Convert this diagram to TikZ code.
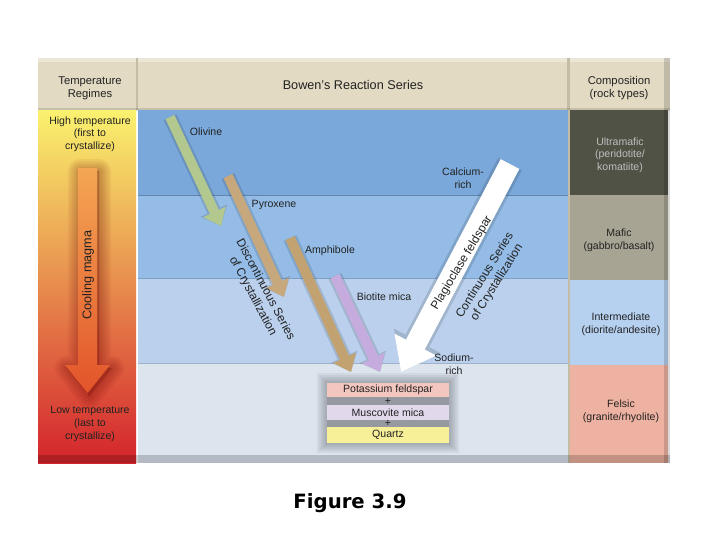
\documentclass[tikz,border=0pt]{standalone}
\usepackage{fontspec}
\setmainfont{Liberation Sans}
\newfontfamily\capfont{DejaVu Sans}
\usepackage{tikz}
\usetikzlibrary{arrows.meta}
\usepackage{xcolor}

\definecolor{hdrbeige}{RGB}{226,218,194}
\definecolor{hdrline}{RGB}{196,188,164}
\definecolor{tempyellow}{RGB}{250,242,110}
\definecolor{temporange}{RGB}{242,172,72}
\definecolor{tempred}{RGB}{212,36,44}
\definecolor{bandA}{RGB}{122,168,218}
\definecolor{bandB}{RGB}{148,188,230}
\definecolor{bandC}{RGB}{186,208,236}
\definecolor{bandD}{RGB}{220,228,238}
\definecolor{rockA}{RGB}{80,82,70}
\definecolor{rockB}{RGB}{168,164,148}
\definecolor{rockC}{RGB}{182,208,240}
\definecolor{rockD}{RGB}{238,178,162}
\definecolor{olivgreen}{RGB}{178,200,142}
\definecolor{pyxtan}{RGB}{198,168,124}
\definecolor{amptan}{RGB}{194,162,112}
\definecolor{biopurple}{RGB}{198,172,222}
\definecolor{kfspink}{RGB}{244,198,192}
\definecolor{muslav}{RGB}{226,216,236}
\definecolor{qtzyellow}{RGB}{248,240,152}
\definecolor{plusgray}{RGB}{150,154,160}
\definecolor{txtgray}{RGB}{34,34,34}
\definecolor{coolA}{RGB}{244,166,84}
\definecolor{coolB}{RGB}{226,84,42}

\begin{document}
\begin{tikzpicture}[x=0.025cm,y=-0.025cm,
  lbl/.style={font=\fontsize{7.5}{9}\selectfont, text=txtgray, align=center, inner sep=0pt},
  hdr/.style={font=\fontsize{8}{9.2}\selectfont, text=txtgray, align=center, inner sep=0pt},
  series/.style={font=\fontsize{8.5}{10}\selectfont, text=txtgray, align=center, inner sep=0pt},
  mineral/.style={line width=7pt, -{Triangle[length=11pt,width=17pt]}},
  ashadow/.style={line width=10pt, draw=black}
]
\useasboundingbox (0,0) rectangle (720,540);
\fill[white] (0,0) rectangle (720,540);

% HEADER %
%%%%%%%%%%%%  header row %%%%%%%%%%%%%
{
\fill[hdrbeige] (38,58) rectangle (670,110);
\fill[white, opacity=0.35] (38,58) rectangle (670,62);
\fill[hdrline] (136,58) rectangle (138,110);
\fill[hdrline] (567,58) rectangle (570,110);
\fill[black, opacity=0.12] (38,108) rectangle (670,111);

\node[hdr] (hdrtemp) at (90,88) {Temperature\\Regimes};
\node[hdr, font=\fontsize{9}{10}\selectfont] (hdrbowen) at (353,85) {Bowen's Reaction Series};
\node[hdr] (hdrcomp) at (619,88) {Composition\\(rock types)};
}

% LEFT COLUMN %
{
\shade[top color=tempyellow, middle color=temporange, bottom color=tempred] (38,110) rectangle (136,463);

% cooling arrow, soft shadow first
\foreach \w in {2,5,...,17}
\draw[black!60!red, opacity=0.06, line width=\w pt, line join=round, fill=black!60!red, fill opacity=0.04]
  (80,171) -- (99,171) -- (99,368) -- (112,368) -- (89.5,396) -- (67,368) -- (80,368) -- cycle;
\shade[top color=coolA, bottom color=coolB] (78,168) -- (97,168) -- (97,365) -- (110,365) -- (87.5,393) -- (65,365) -- (78,365) -- cycle;

\node[lbl] (hightemp) at (90,134) {High temperature\\(first to\\crystallize)};
\node[lbl, rotate=90, font=\fontsize{9}{10}\selectfont] (cooling) at (88,275) {Cooling magma};
\node[lbl] (lowtemp) at (90,424) {Low temperature\\(last to\\crystallize)};
}

% MIDDLE %
%%%%%%%%%%%%  bands %%%%%%%%%%%%%
{
\fill[bandA] (138,110) rectangle (568,195);
\fill[bandB] (138,195) rectangle (568,278);
\fill[bandC] (138,278) rectangle (568,363);
\fill[bandD] (138,363) rectangle (568,463);

\draw[bandA!80!black, line width=0.5pt] (138,195) -- (568,195);
\draw[bandB!85!black, line width=0.5pt] (138,278) -- (568,278);
\draw[bandC!85!black, line width=0.5pt] (138,363) -- (568,363);
}

% RIGHT COLUMN %
{
\fill[hdrline] (568,110) rectangle (570,463);
\fill[rockA] (570,110) rectangle (668,195);
\fill[rockB] (570,195) rectangle (668,280);
\fill[rockC] (570,280) rectangle (668,365);
\fill[rockD] (570,365) rectangle (668,463);
\fill[black, opacity=0.15] (664,58) rectangle (670,463);

\node[lbl, text=black!25] (ultra) at (620,155) {Ultramafic\\(peridotite/\\komatiite)};
\node[lbl] (mafic) at (619,240) {Mafic\\(gabbro/basalt)};
\node[lbl] (inter) at (621,324) {Intermediate\\(diorite/andesite)};
\node[lbl] (felsic) at (621,411) {Felsic\\(granite/rhyolite)};
}

% bottom bevel
\fill[black, opacity=0.18] (38,455) rectangle (670,463);

% ARROWS %
%%%%%%%%%%%%  mineral arrows %%%%%%%%%%%%%
\coordinate (olA) at (170,117);
\coordinate (olB) at (221,226);
\coordinate (pyA) at (228,176);
\coordinate (pyB) at (284,297);
\coordinate (amA) at (290,238);
\coordinate (amB) at (351,372);
\coordinate (biA) at (335,276);
\coordinate (biB) at (380,372);
\coordinate (plA) at (510,164);
\coordinate (plB) at (401,372);

% shadows
\begin{scope}[transparency group, opacity=0.13, shift={(4,4)}]
\draw[ashadow, -{Triangle[length=12pt,width=20pt]}] (olA) -- (olB);
\draw[ashadow, -{Triangle[length=12pt,width=20pt]}] (pyA) -- (pyB);
\draw[ashadow, -{Triangle[length=12pt,width=20pt]}] (amA) -- (amB);
\draw[ashadow, -{Triangle[length=12pt,width=20pt]}] (biA) -- (biB);
\draw[ashadow, line width=19pt, -{Triangle[length=25pt,width=36pt]}] (plA) -- (plB);
\end{scope}

\draw[mineral, olivgreen] (olA) -- (olB);
\draw[mineral, pyxtan] (pyA) -- (pyB);
\draw[mineral, amptan] (amA) -- (amB);
\draw[mineral, biopurple] (biA) -- (biB);
\draw[white, line width=15pt, -{Triangle[length=22pt,width=32pt]}] (plA) -- (plB);

% labellings
{
\node[lbl] (olv) at (206,132) {Olivine};
\node[lbl] (pyx) at (274,205) {Pyroxene};
\node[lbl] (amp) at (330,251) {Amphibole};
\node[lbl] (bio) at (384,297) {Biotite mica};
\node[lbl] (carich) at (463,178) {Calcium-\\rich};
\node[lbl] (narich) at (454,364) {Sodium-\\rich};

\node[series, rotate=-62] (disc) at (259,293) {Discontinuous Series\\of Crystallization};
\node[series, rotate=59] (plag) at (462,263) {Plagioclase feldspar};
\node[series, rotate=58] (cont) at (491,279) {Continuous Series\\of Crystallization};
}

% FINAL PRODUCTS %
{
\foreach \d in {2,4,...,10}
\fill[black, opacity=0.05] (327-\d,383-\d) rectangle (449+\d,443+\d);
\fill[plusgray] (327,383) rectangle (449,443);
\fill[kfspink] (327,383) rectangle (449,397);
\fill[muslav] (327,405) rectangle (449,420);
\fill[qtzyellow] (327,427) rectangle (449,443);

\node[lbl] (kfs) at (388,390) {Potassium feldspar};
\node[lbl] (plusA) at (388,401) {+};
\node[lbl] (mus) at (388,412.5) {Muscovite mica};
\node[lbl] (plusB) at (388,423.5) {+};
\node[lbl] (qtz) at (388,435) {Quartz};
}

\node[font=\capfont\bfseries\fontsize{14}{16}\selectfont] (caption) at (350,503) {Figure 3.9};

\end{tikzpicture}
\end{document}
